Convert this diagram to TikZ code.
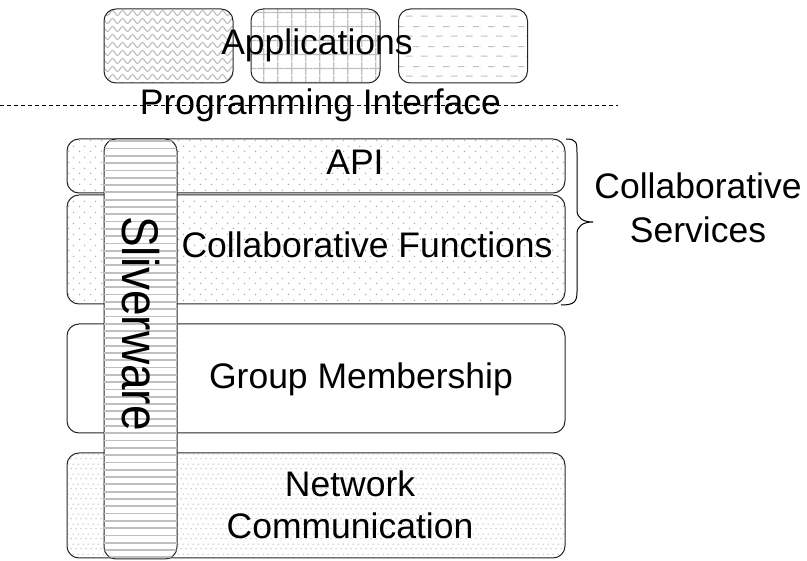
\documentclass[tikz,border=0pt]{standalone}
\usepackage{fontspec}
\setmainfont{Liberation Sans}
\usetikzlibrary{patterns,patterns.meta}

\tikzdeclarepattern{
  name=wavy,
  type=uncolored,
  bottom left={(-1pt,-1pt)},
  top right={(11pt,9pt)},
  tile size={(10pt,8pt)},
  code={
    \draw[line width=1pt] (0pt,4pt) sin (2.5pt,6.5pt) cos (5pt,4pt) sin (7.5pt,1.5pt) cos (10pt,4pt);
  }
}
\tikzdeclarepattern{
  name=gridlines,
  type=uncolored,
  bottom left={(0pt,0pt)},
  top right={(14.3pt,13.5pt)},
  tile size={(14.3pt,13.5pt)},
  code={
    \draw[line width=1.3pt] (0pt,6.75pt) -- (14.3pt,6.75pt) (7.15pt,0pt) -- (7.15pt,13.5pt);
  }
}
\tikzdeclarepattern{
  name=dashrows,
  type=uncolored,
  bottom left={(0pt,0pt)},
  top right={(15pt,20pt)},
  tile size={(15pt,20pt)},
  code={
    \draw[line width=1.1pt] (1pt,5pt) -- (8pt,5pt) (0pt,15pt) -- (0.5pt,15pt) (8.5pt,15pt) -- (15pt,15pt);
  }
}
\tikzdeclarepattern{
  name=hlines,
  type=uncolored,
  bottom left={(-1pt,0pt)},
  top right={(81pt,7.3pt)},
  tile size={(80pt,7.3pt)},
  code={
    \draw[line width=1.8pt] (-1pt,3.65pt) -- (81pt,3.65pt);
  }
}
\tikzdeclarepattern{
  name=sparsedots,
  type=uncolored,
  bottom left={(0pt,0pt)},
  top right={(11pt,11pt)},
  tile size={(11pt,11pt)},
  code={
    \fill (2.75pt,2.75pt) circle (0.85pt);
    \fill (8.25pt,8.25pt) circle (0.85pt);
  }
}
\tikzdeclarepattern{
  name=densedots,
  type=uncolored,
  bottom left={(0pt,0pt)},
  top right={(5pt,10pt)},
  tile size={(5pt,10pt)},
  code={
    \fill (1.25pt,2.5pt) circle (0.8pt);
    \fill (3.75pt,7.5pt) circle (0.8pt);
  }
}

\begin{document}
\begin{tikzpicture}[x=1pt,y=-1pt,
    txt/.style={font=\fontsize{35.5}{42}\selectfont},
    box/.style={draw=black!85, line width=1pt, rounded corners=12pt, inner sep=0pt},
    layer/.style={box, fill=white, minimum width=498pt},
    app/.style={box, minimum width=129pt, minimum height=74pt}]
\useasboundingbox (0,0) rectangle (807,561);

% applications on top
    \node[app, pattern={wavy}, pattern color=black!28] (app1) at (168.5,46) {};
    \node[app, pattern={gridlines}, pattern color=black!25] (app2) at (315.5,46) {};
    \node[app, pattern={dashrows}, pattern color=black!25] (app3) at (463,46) {};
    \node[txt, anchor=base] (apps) at (317,55) {Applications};

    % programming interface line
    \coordinate (ifleft) at (0,105);
    \coordinate (ifright) at (618,105);
    \draw[line width=0.8pt, dash pattern=on 4pt off 3pt] (ifleft) -- (ifright);
    \node[txt, anchor=base] (iface) at (320.5,115) {Programming Interface};

    % layers
    \node[layer, minimum height=54pt, postaction={pattern={sparsedots}, pattern color=black!32}] (api) at (316,166) {};
    \node[layer, minimum height=109pt, postaction={pattern={sparsedots}, pattern color=black!32}] (functions) at (316,249.5) {};
    \node[layer, minimum height=109pt] (membership) at (316,378.5) {};
    \node[layer, minimum height=105pt, postaction={pattern={densedots}, pattern color=black!30}] (network) at (316,505.5) {};

    % sliverware column
    \node[box, fill=white, minimum width=73pt, minimum height=420pt, postaction={pattern={hlines}, pattern color=black!25}] (sliver) at (140.5,349) {};
    \node[font=\fontsize{46}{50}\selectfont, rotate=-90, yscale=1.12] (slivertxt) at (141,323.5) {Sliverware};

    \node[txt, anchor=base] (apitxt) at (355,175) {API};
    \node[txt, anchor=base] (functxt) at (367,258) {Collaborative Functions};
    \node[txt, anchor=base] (membtxt) at (361,389) {Group Membership};
    \node[txt, align=center] (nettxt) at (350,504.5) {Network\\Communication};

    % brace for the services
    \coordinate (brtop) at (566,139);
    \coordinate (brtip) at (593,222);
    \coordinate (brbot) at (561,305);
    \draw[line width=1pt] (brtop) .. controls (577,139) and (577,143) .. (577,153) -- (577,210)
        .. controls (577,218) and (583,222) .. (brtip)
        .. controls (583,222) and (577,226) .. (577,234) -- (577,292)
        .. controls (577,302) and (574,305) .. (brbot);
    \node[txt, align=center, font=\fontsize{35.5}{44}\selectfont] (services) at (698,207.5) {Collaborative\\Services};
\end{tikzpicture}
\end{document}
